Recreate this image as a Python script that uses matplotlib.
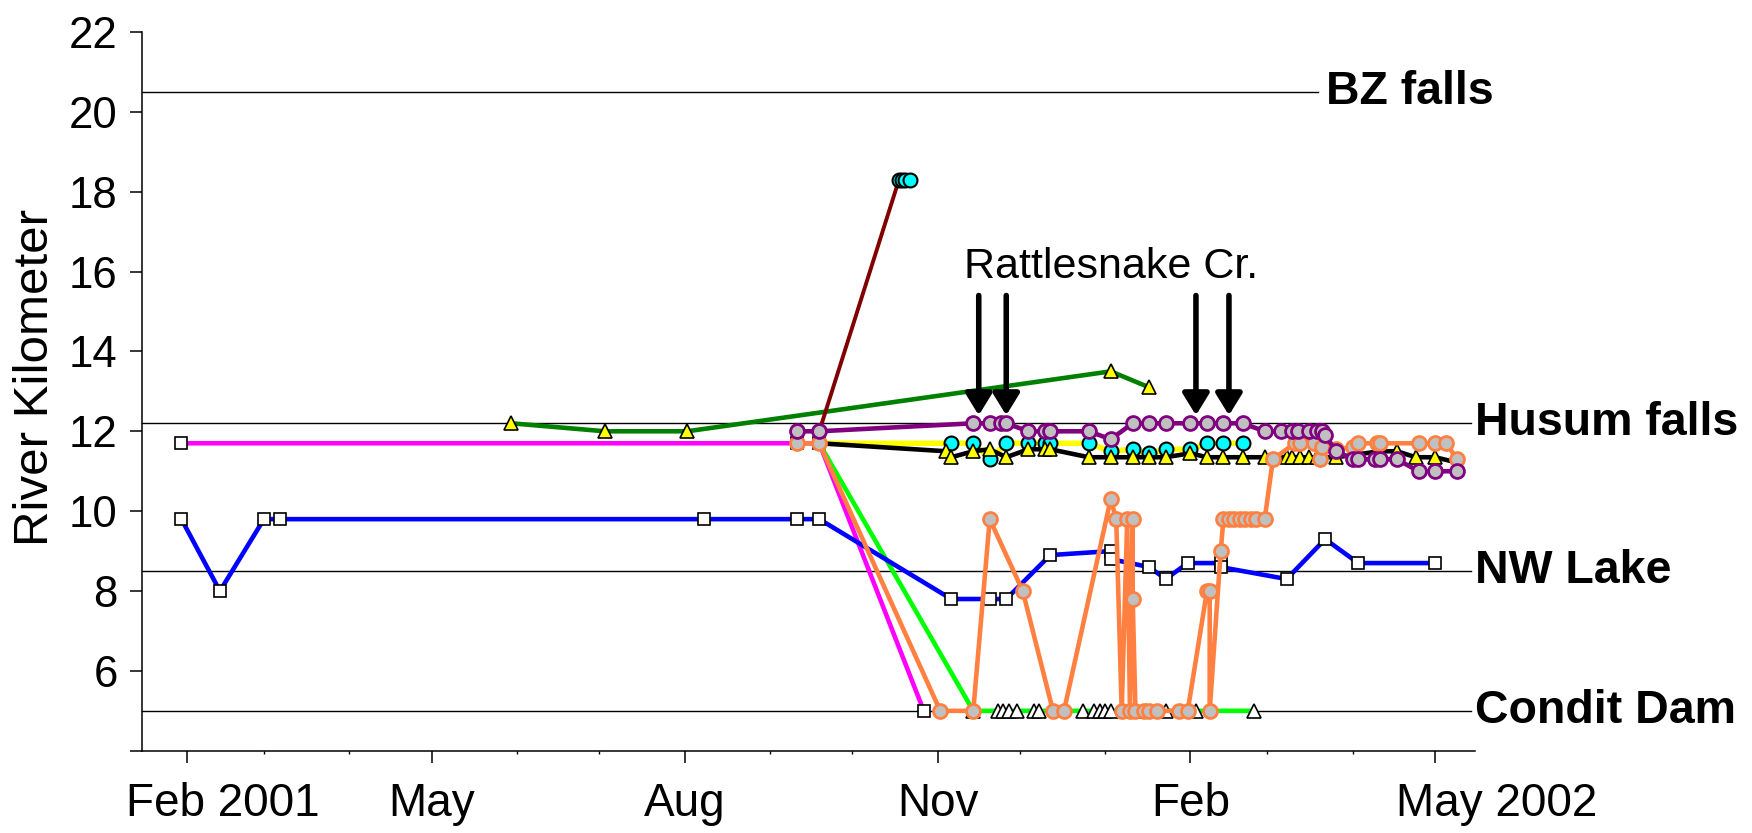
import numpy as np
import matplotlib.pyplot as plt
import matplotlib.dates as mdates
import matplotlib.transforms as mtransforms

plt.rcParams['font.family'] = ['Liberation Sans', 'DejaVu Sans']


def days(lst):
    return np.array(lst, dtype='datetime64[D]')


# blue series, white squares
blue_dates = days(['2001-01-30', '2001-02-13', '2001-03-01', '2001-03-07', '2001-08-08',
                   '2001-09-11', '2001-09-19', '2001-11-06', '2001-11-20', '2001-11-26',
                   '2001-12-12', '2002-01-03', '2002-01-03', '2002-01-17', '2002-01-23',
                   '2002-01-31', '2002-02-12', '2002-02-12', '2002-03-08', '2002-03-22',
                   '2002-04-03', '2002-05-01'])
blue_km = [9.8, 8.0, 9.8, 9.8, 9.8, 9.8, 9.8, 7.8, 7.8, 7.8, 8.9, 9.0, 8.8, 8.6, 8.3,
           8.7, 8.7, 8.6, 8.3, 9.3, 8.7, 8.7]

# magenta series, white squares
magenta_dates = days(['2001-01-30', '2001-09-11', '2001-09-19', '2001-10-27'])
magenta_km = [11.7, 11.7, 11.7, 5.0]

# dark green series, yellow triangles
dgreen_dates = days(['2001-05-30', '2001-07-03', '2001-08-02', '2002-01-03', '2002-01-17'])
dgreen_km = [12.2, 12.0, 12.0, 13.5, 13.1]

# maroon series, cyan circles
maroon_dates = days(['2001-09-19', '2001-10-18', '2001-10-19', '2001-10-20', '2001-10-22'])
maroon_km = [12.0, 18.3, 18.3, 18.3, 18.3]

# yellow series, cyan circles
yellow_dates = days(['2001-09-19', '2001-11-06', '2001-11-14', '2001-11-20', '2001-11-26',
                     '2001-12-04', '2001-12-10', '2001-12-12', '2001-12-26', '2002-01-03',
                     '2002-01-11', '2002-01-17', '2002-01-23', '2002-02-01', '2002-02-07',
                     '2002-02-13', '2002-02-20'])
yellow_km = [11.7, 11.7, 11.7, 11.3, 11.7, 11.7, 11.7, 11.7, 11.7, 11.5, 11.55, 11.45,
             11.55, 11.55, 11.7, 11.7, 11.7]

# black series, yellow triangles
black_dates = days(['2001-09-19', '2001-11-04', '2001-11-06', '2001-11-14', '2001-11-20',
                    '2001-11-26', '2001-12-04', '2001-12-10', '2001-12-12', '2001-12-26',
                    '2002-01-03', '2002-01-11', '2002-01-17', '2002-01-23', '2002-02-01',
                    '2002-02-07', '2002-02-13', '2002-02-20', '2002-02-28', '2002-03-08',
                    '2002-03-10', '2002-03-13', '2002-03-16', '2002-03-19', '2002-03-26',
                    '2002-04-11', '2002-04-17', '2002-04-24', '2002-05-01', '2002-05-10'])
black_km = [11.7, 11.5, 11.35, 11.5, 11.55, 11.35, 11.55, 11.55, 11.55, 11.35, 11.35,
            11.35, 11.35, 11.35, 11.45, 11.35, 11.35, 11.35, 11.35, 11.35, 11.35, 11.35,
            11.35, 11.35, 11.35, 11.5, 11.5, 11.35, 11.35, 11.2]

# lime series, white triangles
lime_dates = days(['2001-09-19', '2001-11-14', '2001-11-23', '2001-11-25', '2001-11-27',
                   '2001-11-30', '2001-12-06', '2001-12-08', '2001-12-24', '2001-12-28',
                   '2001-12-30', '2002-01-01', '2002-01-03', '2002-01-16', '2002-01-23',
                   '2002-02-03', '2002-02-24'])
lime_km = [11.7] + [5.0] * 16

# orange series, grey circles
orange_dates = days(['2001-09-11', '2001-09-19', '2001-11-02', '2001-11-14', '2001-11-20',
                     '2001-12-02', '2001-12-13', '2001-12-17', '2002-01-03', '2002-01-05',
                     '2002-01-07', '2002-01-09', '2002-01-10', '2002-01-11', '2002-01-11',
                     '2002-01-12', '2002-01-15', '2002-01-17', '2002-01-20', '2002-01-28',
                     '2002-01-31', '2002-02-07', '2002-02-08', '2002-02-08', '2002-02-12',
                     '2002-02-13', '2002-02-15', '2002-02-17', '2002-02-19', '2002-02-21',
                     '2002-02-23', '2002-02-25', '2002-02-28', '2002-03-03', '2002-03-11',
                     '2002-03-13', '2002-03-18', '2002-03-20', '2002-03-21', '2002-03-26',
                     '2002-04-01', '2002-04-03', '2002-04-10', '2002-04-11', '2002-04-25',
                     '2002-05-01', '2002-05-05', '2002-05-09'])
orange_km = [11.7, 11.7, 5.0, 5.0, 9.8, 8.0, 5.0, 5.0, 10.3, 9.8, 5.0, 9.8, 5.0, 9.8, 7.8,
             5.0, 5.0, 5.0, 5.0, 5.0, 5.0, 8.0, 8.0, 5.0, 9.0, 9.8, 9.8, 9.8, 9.8, 9.8,
             9.8, 9.8, 9.8, 11.3, 11.7, 11.7, 11.7, 11.3, 11.6, 11.55, 11.6, 11.7, 11.7,
             11.7, 11.7, 11.7, 11.7, 11.3]

# purple series, grey circles
purple_dates = days(['2001-09-11', '2001-09-19', '2001-11-14', '2001-11-20', '2001-11-24',
                     '2001-11-26', '2001-12-04', '2001-12-10', '2001-12-12', '2001-12-26',
                     '2002-01-03', '2002-01-11', '2002-01-17', '2002-01-23', '2002-02-01',
                     '2002-02-07', '2002-02-13', '2002-02-20', '2002-02-28', '2002-03-06',
                     '2002-03-10', '2002-03-12', '2002-03-16', '2002-03-19', '2002-03-21',
                     '2002-03-22', '2002-03-26', '2002-04-01', '2002-04-03', '2002-04-09',
                     '2002-04-11', '2002-04-17', '2002-04-25', '2002-05-01', '2002-05-09'])
purple_km = [12.0, 12.0, 12.2, 12.2, 12.2, 12.2, 12.0, 12.0, 12.0, 12.0, 11.8, 12.2, 12.2,
             12.2, 12.2, 12.2, 12.2, 12.2, 12.0, 12.0, 12.0, 12.0, 12.0, 12.0, 12.0, 11.9,
             11.5, 11.3, 11.3, 11.3, 11.3, 11.3, 11.0, 11.0, 11.0]

landmark_names = ['BZ falls', 'Husum falls', 'NW Lake', 'Condit Dam']
landmark_km = [20.5, 12.2, 8.5, 5.0]

arrow_dates = days(['2001-11-16', '2001-11-26', '2002-02-03', '2002-02-15'])
creek_label = 'Rattlesnake Cr.'

tick_dates = days(['2001-02-01', '2001-05-01', '2001-08-01', '2001-11-01', '2002-02-01',
                   '2002-05-01'])
tick_labels = ['Feb 2001', 'May', 'Aug', 'Nov', 'Feb', 'May 2002']

fig = plt.figure(figsize=(17.52, 8.33), dpi=100)
ax = fig.add_axes([0.0808, 0.0987, 0.7611, 0.863])

# landmark lines and names
for name, km in zip(landmark_names, landmark_km):
    if name == 'BZ falls':
        xend, xtxt = 0.882, 0.888
    else:
        xend, xtxt = 0.997, 1.0
    ax.axhline(km, xmin=0, xmax=xend, color='black', lw=1.0, zorder=1, clip_on=False)
    ax.text(xtxt, km, name, transform=ax.get_yaxis_transform(), fontsize=33.5,
            fontweight='bold', va='center', ha='left')

lw = 3.3
sq = dict(marker='s', ms=9, mfc='white', mec='black', mew=1.2)
circ = dict(marker='o', ms=10, mfc='#C0C0C0', mew=2.0)
ax.plot(magenta_dates, magenta_km, color='#FF00FF', lw=lw, zorder=2, **sq)
ax.plot(lime_dates, lime_km, color='#00FF00', lw=lw, marker='^', ms=10,
        mfc='white', mec='black', mew=1.2, markevery=list(range(1, len(lime_dates))), zorder=3)
ax.plot(yellow_dates, yellow_km, color='#FFFF00', lw=4.0, marker='o', ms=10,
        mfc='#00FFFF', mec='black', mew=1.5, markevery=list(range(1, len(yellow_dates))), zorder=4)
ax.plot(black_dates, black_km, color='black', lw=lw, marker='^', ms=10,
        mfc='#FFFF00', mec='black', mew=1.2,
        markevery=list(range(1, len(black_dates) - 1)), zorder=5)
ax.plot(dgreen_dates, dgreen_km, color='#008000', lw=lw, marker='^', ms=10,
        mfc='#FFFF00', mec='black', mew=1.2, zorder=5)
ax.plot(maroon_dates, maroon_km, color='#800000', lw=2.8, zorder=6)
ax.plot(blue_dates, blue_km, color='#0000FF', lw=lw, zorder=7, **sq)
ax.plot(orange_dates, orange_km, color='#FF8040', lw=lw, mec='#FF8040', zorder=8, **circ)
ax.plot(purple_dates, purple_km, color='#800080', lw=lw, mec='#800080', zorder=9, **circ)
ax.plot(maroon_dates[1:], maroon_km[1:], ls='none', marker='o', ms=10,
        mfc='#00FFFF', mec='black', mew=1.5, zorder=10)

# Rattlesnake Creek arrows
for dt in arrow_dates:
    x = mdates.date2num(dt)
    ax.annotate('', xy=(x, 12.4), xytext=(x, 15.4),
                arrowprops=dict(arrowstyle='-|>,head_length=0.65,head_width=0.4',
                                lw=4, color='black', mutation_scale=20,
                                shrinkA=0, shrinkB=0), zorder=11)
ax.text(mdates.date2num(np.datetime64('2002-01-03')), 15.85, creek_label,
        fontsize=31, ha='center', va='baseline')

ax.set_xlim(np.datetime64('2001-01-15T12:00'), np.datetime64('2002-05-15T12:00'))
ax.set_ylim(4, 22)
ax.set_xticks(tick_dates)
ax.set_xticklabels(tick_labels)
ax.xaxis.set_minor_locator(mdates.MonthLocator())
yt = list(range(4, 23, 2))
ax.set_yticks(yt)
ax.set_yticklabels(['' if v == 4 else str(v) for v in yt])

ax.spines['top'].set_visible(False)
ax.spines['right'].set_visible(False)
ax.spines['left'].set_linewidth(1.1)
ax.spines['bottom'].set_linewidth(1.1)
ax.tick_params(axis='x', which='major', direction='out', length=8.5, width=1.1,
               labelsize=33, pad=14)
ax.tick_params(axis='x', which='minor', direction='out', length=2, width=1.0)
ax.tick_params(axis='y', direction='out', length=8.3, width=1.1, labelsize=31.5, pad=9)

# the year labels sit to the right of their ticks
label_shift = {'Feb 2001': 36, 'May 2002': 61}
for lab in ax.get_xticklabels():
    s = label_shift.get(lab.get_text(), 0)
    lab.set_transform(lab.get_transform() +
                      mtransforms.ScaledTranslation(s / 100, 0, fig.dpi_scale_trans))

ax.set_ylabel('River Kilometer', fontsize=35.5)
ax.yaxis.set_label_coords(-0.063, 0.519)

fig.savefig('out.png', dpi=100)
